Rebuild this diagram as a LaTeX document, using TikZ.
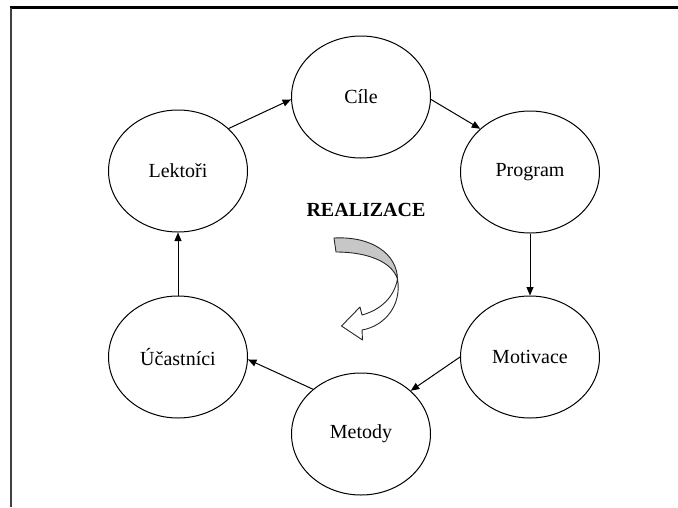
\documentclass[tikz,border=0pt]{standalone}
\usepackage{fontspec}
\setmainfont{Liberation Serif}
\usetikzlibrary{shapes.geometric,arrows.meta}
\begin{document}
\begin{tikzpicture}[x=1pt,y=-1pt,
  stage/.style={ellipse,draw,line width=1pt,minimum width=139pt,minimum height=122pt,
    inner sep=0pt,font=\fontsize{20}{24}\selectfont},
  link/.style={line width=1pt,-{Triangle[length=8.5pt,width=7pt]}},
  twist/.style={line width=0.9pt,draw=black!85,line join=round}]
\useasboundingbox (0,0) rectangle (678,507);
% page frame
\draw[line width=2.6pt] (10,7.5) -- (678,7.5);
\draw[line width=1.6pt,black!75] (11,7.5) -- (11,507);

% the six stages of the cycle
\node[stage] (cile)      at (361,97)  {Cíle};
\node[stage] (program)   at (530,172) {Program};
\node[stage] (motivace)  at (530,357) {Motivace};
\node[stage] (metody)    at (361,434) {Metody};
\node[stage] (ucastnici) at (178,357) {Účastníci};
\node[stage] (lektori)   at (178,171) {Lektoři};

% connectors
\draw[link] (lektori.40) -- (cile.182);
\draw[link] (cile.-2) -- (program.139);
\draw[link] (program.south) -- (motivace.north);
\draw[link] (motivace.180) -- (metody.41);
\draw[link] (metody.137) -- (ucastnici.-2);
\draw[link] (ucastnici.north) -- (lektori.south);

% centre label
\node[font=\bfseries\fontsize{20}{24}\selectfont] (realizace) at (366,210) {REALIZACE};

% curved twisted arrow
\coordinate (ta) at (334,238);
\coordinate (tb) at (336,252);
\coordinate (tt) at (397.5,279);
\coordinate (tc) at (362,330);
\coordinate (td) at (362,315);
\filldraw[twist,fill=black!22]
  (ta) .. controls (372,236) and (397,254) .. (tt)
       .. controls (392,262) and (368,252) .. (tb) -- cycle;
\filldraw[twist,fill=white]
  (tt) .. controls (402,305) and (385,326) .. (tc)
       -- (362.5,340) -- (341.5,326) -- (360,307) -- (td)
       .. controls (380,310) and (394,298) .. (tt) -- cycle;
\end{tikzpicture}
\end{document}
